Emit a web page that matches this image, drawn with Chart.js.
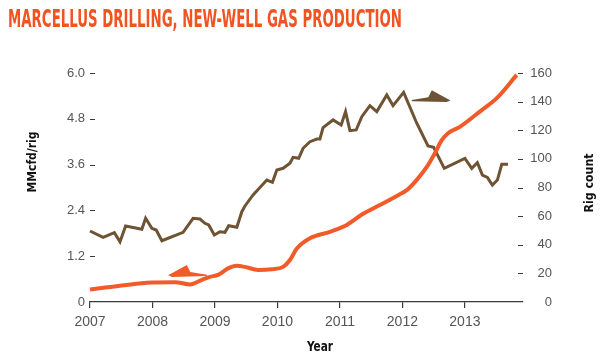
<!DOCTYPE html>
<html><head><meta charset="utf-8">
<script src="https://cdn.jsdelivr.net/npm/chart.js@4.4.1/dist/chart.umd.min.js"></script>
<style>html,body{margin:0;padding:0;background:#fff;}canvas{display:block;}</style>
</head><body>
<canvas id="c" width="600" height="359"></canvas>
<script>
const chartTitle = 'MARCELLUS DRILLING, NEW-WELL GAS PRODUCTION';
const xTitle = 'Year';
const leftTitle = 'MMcfd/rig';
const rightTitle = 'Rig count';

const yearTicks = [2007, 2008, 2009, 2010, 2011, 2012, 2013];
const yearLabels = ['2007', '2008', '2009', '2010', '2011', '2012', '2013'];
const gasTickValues = [0, 1.2, 2.4, 3.6, 4.8, 6.0];
const gasTickLabels = ['0', '1.2', '2.4', '3.6', '4.8', '6.0'];
const rigTickValues = [0, 20, 40, 60, 80, 100, 120, 140, 160];
const rigTickLabels = ['0', '20', '40', '60', '80', '100', '120', '140', '160'];

// New-well gas production per rig (MMcfd/rig), left axis
const gasYears = [2007.00, 2007.45, 2007.99, 2008.36, 2008.60, 2008.79, 2008.92, 2009.05, 2009.21, 2009.35,
  2009.48, 2009.69, 2009.91, 2010.09, 2010.20, 2010.31, 2010.52, 2010.84, 2011.11, 2011.37,
  2011.64, 2011.91, 2012.07, 2012.23, 2012.39, 2012.52, 2012.63, 2012.73, 2012.92, 2013.24,
  2013.51, 2013.83];
const gasPerRig = [0.33, 0.42, 0.51, 0.52, 0.46, 0.58, 0.66, 0.71, 0.88, 0.95,
  0.92, 0.84, 0.86, 0.92, 1.10, 1.40, 1.67, 1.84, 2.02, 2.31,
  2.54, 2.78, 2.93, 3.20, 3.54, 3.90, 4.24, 4.42, 4.59, 4.99,
  5.34, 5.95];

// Marcellus rig count, right axis
const rigYears = [2007.00, 2007.21, 2007.39, 2007.48, 2007.57, 2007.83, 2007.89, 2007.99, 2008.06, 2008.15,
  2008.49, 2008.65, 2008.76, 2008.84, 2008.90, 2008.99, 2009.08, 2009.16, 2009.22, 2009.35,
  2009.43, 2009.48, 2009.61, 2009.83, 2009.92, 2009.99, 2010.09, 2010.20, 2010.25, 2010.34,
  2010.41, 2010.52, 2010.63, 2010.68, 2010.73, 2010.89, 2011.02, 2011.09, 2011.16, 2011.26,
  2011.35, 2011.48, 2011.59, 2011.75, 2011.85, 2012.02, 2012.23, 2012.41, 2012.50, 2012.67,
  2013.00, 2013.11, 2013.20, 2013.28, 2013.36, 2013.44, 2013.52, 2013.59, 2013.69];
const rigCount = [49.6, 45.2, 48.4, 42.1, 53.1, 50.8, 58.5, 51.5, 50.3, 42.8,
  48.7, 58.5, 58.0, 55.0, 53.8, 46.8, 49.1, 48.7, 53.3, 52.2,
  63.1, 67.1, 74.8, 85.2, 83.6, 92.2, 93.4, 96.9, 101.1, 100.4,
  107.4, 112.0, 113.9, 113.9, 121.8, 127.2, 123.7, 133.0, 119.7, 120.2,
  129.5, 137.2, 133.0, 144.6, 137.2, 146.5, 124.9, 109.0, 108.1, 93.4,
  100.4, 93.4, 97.3, 88.7, 87.1, 81.7, 85.2, 96.2, 96.2];

// Axis-indicator arrows (in data units)
const gasArrow = {axis: 'y', tail: 2008.87, tip: 2008.25, barbX: 2008.55, y: 0.70, barbY: 0.97};
const rigArrow = {axis: 'y2', tail: 2012.15, tip: 2012.77, barbX: 2012.47, y: 140.8, barbY: 148.0};

const ORANGE = '#F15A29';
const BROWN = '#6E5434';
const AXIS = '#3a3a3a';
const TICKTXT = '#555555';

function fitText(ctx, text, x, y, w, font, color, rot) {
  ctx.save();
  ctx.font = font;
  const m = ctx.measureText(text).width;
  ctx.translate(x, y);
  if (rot) ctx.rotate(rot);
  ctx.scale(w / m, 1);
  ctx.fillStyle = color;
  ctx.textAlign = 'center';
  ctx.textBaseline = 'middle';
  ctx.fillText(text, 0, 0);
  ctx.restore();
}

const decor = {
  id: 'decor',
  afterDraw(chart) {
    const ctx = chart.ctx;
    const ca = chart.chartArea;
    const xs = chart.scales.x, yl = chart.scales.y, yr = chart.scales.y2;
    // title
    ctx.save();
    ctx.font = 'bold 24px "Liberation Sans Narrow", "DejaVu Sans Condensed", sans-serif';
    const tw = ctx.measureText(chartTitle).width;
    ctx.translate(8, 27);
    ctx.scale(394 / tw, 1);
    ctx.fillStyle = '#F05423';
    ctx.textAlign = 'left';
    ctx.textBaseline = 'alphabetic';
    ctx.fillText(chartTitle, 0, 0);
    ctx.restore();
    // axis titles
    const tf = 'bold 13px "Liberation Sans Narrow", "DejaVu Sans Condensed", sans-serif';
    fitText(ctx, leftTitle, 33, 162, 61, tf, '#111', -Math.PI / 2);
    fitText(ctx, rightTitle, 590, 183, 59, tf, '#111', -Math.PI / 2);
    fitText(ctx, xTitle, 320, 347, 26, 'bold 14px "Liberation Sans Narrow", "DejaVu Sans Condensed", sans-serif', '#111', 0);
    // y tick dashes
    ctx.save();
    ctx.strokeStyle = AXIS;
    ctx.lineWidth = 1.2;
    ctx.beginPath();
    gasTickValues.forEach(v => {
      if (v === 0) return;
      const py = Math.round(yl.getPixelForValue(v)) + 0.5;
      ctx.moveTo(ca.left, py); ctx.lineTo(ca.left + 5, py);
    });
    rigTickValues.forEach(v => {
      if (v === 0) return;
      const py = Math.round(yr.getPixelForValue(v)) + 0.5;
      ctx.moveTo(ca.right - 5, py); ctx.lineTo(ca.right, py);
    });
    ctx.stroke();
    ctx.restore();
    // arrows (half-arrowhead with thin tapering tail)
    function arrow(a, color) {
      const sc = chart.scales[a.axis];
      const T = xs.getPixelForValue(a.tip), F = xs.getPixelForValue(a.tail);
      const B = xs.getPixelForValue(a.barbX);
      const Y = sc.getPixelForValue(a.y), BY = sc.getPixelForValue(a.barbY);
      const d = Math.sign(F - T);
      ctx.save();
      ctx.fillStyle = color;
      ctx.beginPath();
      ctx.moveTo(T, Y);
      ctx.lineTo(B, BY);
      ctx.lineTo(B + d * 3.5, Y - 3.2);
      ctx.lineTo(F, Y - 0.6);
      ctx.lineTo(F, Y + 0.8);
      ctx.lineTo(T + d * 4, Y + 1.6);
      ctx.closePath();
      ctx.fill();
      ctx.restore();
    }
    arrow(gasArrow, ORANGE);
    arrow(rigArrow, BROWN);
  }
};

const tickFont = {family: '"Liberation Sans", Arial, sans-serif', size: 13};

new Chart(document.getElementById('c'), {
  type: 'line',
  data: {
    datasets: [
      {
        label: leftTitle,
        data: gasYears.map((x, i) => ({x, y: gasPerRig[i]})),
        yAxisID: 'y',
        borderColor: ORANGE,
        borderWidth: 4,
        pointRadius: 0,
        fill: false,
        tension: 0.4,
        cubicInterpolationMode: 'monotone',
        clip: false
      },
      {
        label: rightTitle,
        data: rigYears.map((x, i) => ({x, y: rigCount[i]})),
        yAxisID: 'y2',
        borderColor: BROWN,
        borderWidth: 3,
        pointRadius: 0,
        fill: false,
        tension: 0,
        clip: false
      }
    ]
  },
  options: {
    responsive: false,
    animation: false,
    events: [],
    layout: {padding: {top: 73, left: 0, right: 48, bottom: 0}},
    plugins: {legend: {display: false}, tooltip: {enabled: false}, title: {display: false}},
    scales: {
      x: {
        type: 'linear',
        min: 2007,
        max: 2013.93,
        afterBuildTicks: s => { s.ticks = yearTicks.map(v => ({value: v})); },
        afterFit: s => { s.height = 57; },
        grid: {display: true, drawOnChartArea: false, drawTicks: true, tickLength: 6, color: AXIS, lineWidth: 1.2},
        border: {display: true, color: AXIS, width: 1.2},
        ticks: {
          callback: v => yearLabels[yearTicks.indexOf(v)],
          font: {family: '"Liberation Sans", Arial, sans-serif', size: 14},
          color: TICKTXT,
          padding: 6,
          maxRotation: 0,
          autoSkip: false
        }
      },
      y: {
        type: 'linear',
        position: 'left',
        min: 0,
        max: 6,
        afterBuildTicks: s => { s.ticks = gasTickValues.map(v => ({value: v})); },
        afterFit: s => { s.width = 90; },
        grid: {display: false, drawTicks: false},
        border: {display: false},
        ticks: {
          callback: v => gasTickLabels[gasTickValues.indexOf(v)],
          font: tickFont,
          color: TICKTXT,
          padding: 5
        }
      },
      y2: {
        type: 'linear',
        position: 'right',
        min: 0,
        max: 160,
        afterBuildTicks: s => { s.ticks = rigTickValues.map(v => ({value: v})); },
        afterFit: s => { s.width = 29; },
        grid: {display: false, drawTicks: false},
        border: {display: false},
        ticks: {
          callback: v => rigTickLabels[rigTickValues.indexOf(v)],
          font: tickFont,
          color: TICKTXT,
          crossAlign: 'far',
          padding: 7
        }
      }
    }
  },
  plugins: [decor]
});
</script>
</body></html>
